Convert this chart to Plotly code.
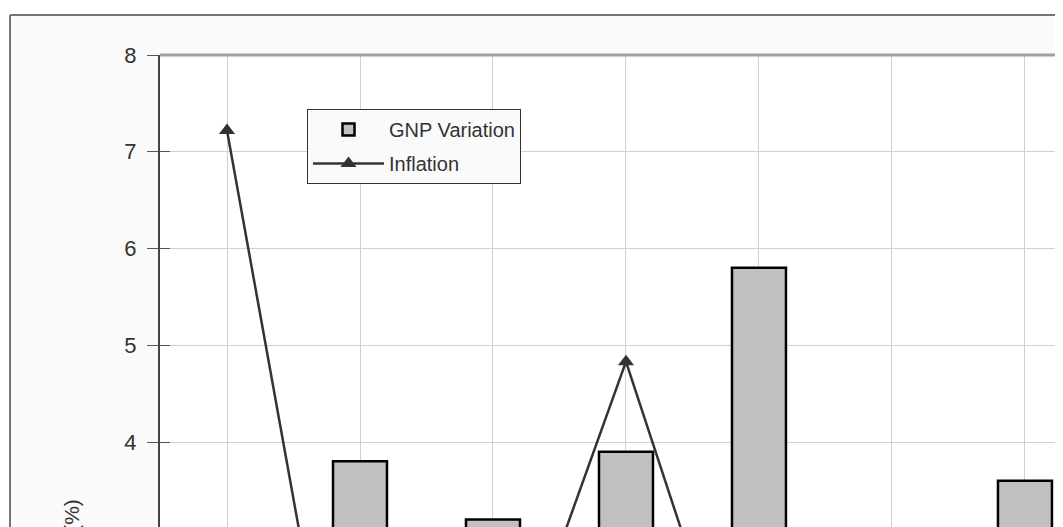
import plotly.graph_objects as go

# ---- data ----
years = ["1996", "1997", "1998", "1999", "2000", "2001", "2002"]
gnp_variation = [2.2, 3.8, 3.2, 3.9, 5.8, 2.1, 3.6]
inflation = [7.22, -0.4, 1.0, 4.83, 0.65, 1.4, 1.9]
y_ticks = [4, 5, 6, 7, 8]
y_range = [3.1214, 8.0]

OFF = 8  # page body margin
W, H = 1063 - OFF, 527 - OFF
L, T = 160 - OFF, 55 - OFF
pw, ph = W - L, H - T

def px_x(p):  # p in reference-picture pixels
    return (p - OFF - L) / pw

def px_y(p):
    return 1 - (p - OFF - T) / ph

fig = go.Figure()
fig.add_trace(go.Bar(
    x=years, y=gnp_variation, name="GNP Variation",
    marker=dict(color="#c0c0c0", line=dict(color="#000000", width=2.5)),
    width=0.406, legendgroup="a",
))
fig.add_trace(go.Scatter(
    x=years, y=inflation, name="Inflation", mode="lines+markers",
    line=dict(color="#333333", width=2.5),
    marker=dict(symbol="triangle-up", size=14, color="#333333"),
    legendgroup="b", yaxis="y2",
))

shapes = [
    dict(type="rect", xref="paper", yref="paper", x0=-0.5, x1=1.5, y0=px_y(15), y1=1.5,
         fillcolor="white", line=dict(width=0), layer="above"),
    dict(type="rect", xref="paper", yref="paper", x0=-0.5, x1=px_x(10), y0=-0.5, y1=1.5,
         fillcolor="white", line=dict(width=0), layer="above"),
    dict(type="line", xref="paper", yref="paper", x0=px_x(10), x1=1.5, y0=px_y(15), y1=px_y(15),
         line=dict(color="#6e7682", width=2)),
    dict(type="line", xref="paper", yref="paper", x0=px_x(10), x1=px_x(10), y0=-0.5, y1=px_y(15),
         line=dict(color="#6e7682", width=2)),
    dict(type="line", xref="paper", yref="paper", x0=0, x1=1.2, y0=1, y1=1,
         line=dict(color="#a0a0a0", width=3)),
]

fig.update_layout(
    width=W, height=H, autosize=False,
    margin=dict(l=L, r=0, t=T, b=0, pad=0),
    paper_bgcolor="#fafafa", plot_bgcolor="white",
    font=dict(family="Liberation Sans, Arial, sans-serif", color="#333333"),
    showlegend=True,
    legend=dict(
        x=px_x(307), y=px_y(109), xanchor="left", yanchor="top",
        bgcolor="#fafafa", bordercolor="#333333", borderwidth=1,
        font=dict(size=20, color="#333333"), tracegroupgap=5,
        traceorder="grouped", itemwidth=71,
    ),
    shapes=shapes,
    annotations=[dict(
        text="Variation (%)", textangle=-90, xref="paper", yref="paper",
        x=px_x(71), y=px_y(497), xanchor="center", yanchor="top",
        showarrow=False, font=dict(size=21, color="#333333"),
    )],
    xaxis=dict(
        type="category", range=[-0.5038, 6.286], showgrid=True, gridcolor="#d0d0d0", gridwidth=1,
        showticklabels=False, ticks="", zeroline=False, showline=False,
    ),
    yaxis=dict(
        range=y_range, tickvals=y_ticks, showgrid=True, gridcolor="#d0d0d0", gridwidth=1,
        ticks="outside", ticklen=11, tickcolor="#555555", tickwidth=1,
        showline=True, linecolor="#444444", linewidth=2, zeroline=False,
        tickfont=dict(size=22, color="#333333"), ticklabelstandoff=6,
    ),
    yaxis2=dict(
        overlaying="y", side="left", range=y_range, tickvals=y_ticks,
        ticks="inside", ticklen=10, tickcolor="#555555", tickwidth=1,
        showticklabels=False, showgrid=False, zeroline=False, showline=False,
    ),
)

fig.write_html("out.html")
